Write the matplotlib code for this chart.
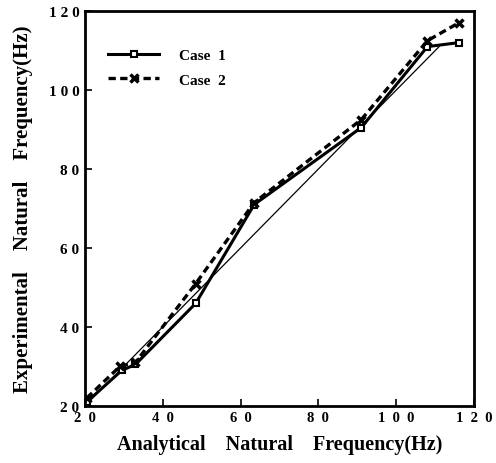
import matplotlib
matplotlib.use("Agg")
import matplotlib.pyplot as plt

# analytical vs experimental natural frequencies (Hz)
case1_x = [20.5, 29.5, 33, 48.5, 63.5, 91, 108, 116]
case1_y = [21, 29, 30.5, 46, 71, 90.5, 111, 112]
case2_x = [20.5, 29, 33, 48.5, 63.5, 91, 108, 116]
case2_y = [22, 30, 31, 51, 71.5, 92.5, 112.5, 117]
ideal = [20, 111]

ticks = [20, 40, 60, 80, 100, 120]
xtick_labels = ["2  0", "4  0", "6  0", "8  0", "1  0  0", "1  2  0"]
ytick_labels = ["2 0", "4 0", "6 0", "8 0", "1 0 0", "1 2 0"]

plt.rcParams['font.family'] = ['Liberation Serif', 'DejaVu Serif']
plt.rcParams['font.weight'] = 'bold'

fig = plt.figure(figsize=(4.96, 4.64), dpi=100)
ax = fig.add_axes([0.171, 0.123, 0.785, 0.851])

ax.plot(ideal, ideal, color='black', lw=0.9)
ax.plot(case1_x, case1_y, color='black', lw=2.2, marker='s', ms=5,
        mfc='white', mec='black', mew=1.5, label='Case  1')
ax.plot(case2_x, case2_y, color='black', lw=2.4, ls=(0, (2.2, 1.3)),
        marker='x', ms=6, mew=2.5, label='Case  2')

ax.set_xlim(20, 120)
ax.set_ylim(20, 120)
ax.set_xticks(ticks)
ax.set_xticklabels(xtick_labels, fontsize=10.5, fontweight='bold')
ax.set_yticks(ticks)
ax.set_yticklabels(ytick_labels, fontsize=11, fontweight='bold')
ax.tick_params(direction='in', length=5, width=1.2, pad=4)

for s in ax.spines.values():
    s.set_linewidth(2)

ax.set_xlabel("Analytical    Natural    Frequency(Hz)", fontsize=14.5,
              fontweight='bold', labelpad=7)
ax.set_ylabel("Experimental    Natural    Frequency(Hz)", fontsize=15,
              fontweight='bold', labelpad=11)

leg = ax.legend(loc='upper left', bbox_to_anchor=(0.025, 0.94), frameon=False,
                handlelength=3.3, handletextpad=1.3, labelspacing=0.7,
                prop={'weight': 'bold', 'size': 11})

fig.savefig("out.png", dpi=100)
